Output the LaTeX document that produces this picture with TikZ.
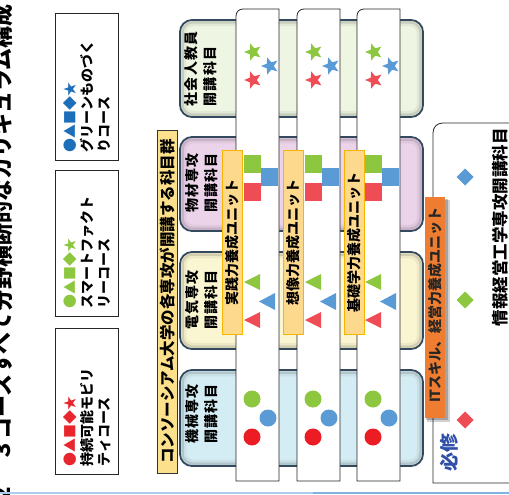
\documentclass[tikz,border=0pt]{standalone}
\usepackage{fontspec}
\setmainfont{Noto Sans CJK JP}
\usetikzlibrary{shapes.geometric}
\definecolor{cgreen}{HTML}{8DC63F}
\definecolor{cblue}{HTML}{5B9BD5}
\definecolor{cred}{HTML}{EF4D55}
\definecolor{ccirc}{HTML}{EC1C24}
\definecolor{lgblue}{HTML}{1E6FBA}
\definecolor{lggreen}{HTML}{8DC63F}
\definecolor{lgred}{HTML}{E8262E}
\definecolor{catgreen}{HTML}{EEF5E2}
\definecolor{catpink}{HTML}{EBD3EA}
\definecolor{catyellow}{HTML}{FAF6D2}
\definecolor{catblue}{HTML}{D4ECF3}
\definecolor{catborder}{HTML}{34495E}
\definecolor{unitfill}{HTML}{FDD98E}
\definecolor{unitborder}{HTML}{F7B500}
\definecolor{barfill}{HTML}{FDE08B}
\definecolor{itfill}{HTML}{EE7D31}
\definecolor{hissu}{HTML}{2F4FA8}
\definecolor{lineA}{HTML}{A9CDEA}
\definecolor{lineB}{HTML}{7FB2E0}
\begin{document}
\begin{tikzpicture}[x=1pt,y=-1pt,
  every node/.style={inner sep=0pt, outer sep=0pt},
  legendbox/.style={draw=black!85, line width=0.8pt, fill=white},
  legendtext/.style={rotate=90, anchor=north west, align=left, font=\fontsize{14}{17}\selectfont\bfseries},
  catlabel/.style={rotate=90, anchor=north, align=left, font=\fontsize{14}{19}\selectfont\bfseries\addfontfeature{LetterSpace=8}},
  colbox/.style={draw=black!85, line width=0.8pt, fill=white},
  unitbar/.style={draw=unitborder, line width=0.9pt, fill=unitfill},
  unitlabel/.style={rotate=90, font=\fontsize{14}{14}\selectfont\bfseries},
  starmark/.style={star, star points=5, star point ratio=2.3, minimum size=18pt, rotate=90},
  diam/.style={diamond, minimum size=17pt}
]
\useasboundingbox (0,0) rectangle (509,495);

% title (clipped at the left edge, as in the reference)
\node[rotate=90, anchor=south east, font=\fontsize{22}{22}\selectfont\bfseries] (title) at (13,4) {図２　３コースすべて分野横断的なカリキュラム構成};

% legend boxes
\draw[legendbox] (55,13) rectangle (118,160);
\node[legendtext] (lg1) at (63,152) {{\color{lgblue}●▲■◆★}\\グリーンものづく\\りコース};
\draw[legendbox] (55,170) rectangle (118,316);
\node[legendtext] (lg2) at (63,308) {{\color{lggreen}●▲■◆★}\\スマートファクト\\リーコース};
\draw[legendbox] (55,328) rectangle (118,474);
\node[legendtext] (lg3) at (63,466) {{\color{lgred}●▲■◆★}\\持続可能モビリ\\ティコース};

% consortium bar
\draw[fill=barfill, draw=black!80, line width=0.8pt] (157,130) rectangle (177,473);
\node[rotate=90, font=\fontsize{15.5}{15.5}\selectfont\bfseries] (cons) at (167,301.5) {コンソーシアム大学の各専攻が開講する科目群};

% category boxes
\foreach \ya/\yb/\c in {20/117/catgreen, 137/231/catpink, 252/349/catyellow, 370/466/catblue}{
  \draw[rounded corners=12pt, fill=\c, draw=catborder, line width=1.8pt] (180,\ya) rectangle (423,\yb);
  \draw[rounded corners=10pt, draw=\c!55!black, opacity=.35, line width=2.5pt] (182.5,\ya+2.5) rectangle (420.5,\yb-2.5);
  \draw[rounded corners=8pt, draw=\c!75!black, opacity=.2, line width=2.5pt] (185,\ya+5) rectangle (418,\yb-5);
}
\node[catlabel] (cat1) at (185,69) {社会人教員\\開講科目};
\node[catlabel] (cat2) at (185,183) {物材専攻\\開講科目};
\node[catlabel] (cat3) at (185,300) {電気専攻\\開講科目};
\node[catlabel] (cat4) at (185,414) {機械専攻\\開講科目};

% columns
\foreach \L in {236,297,357}{
  \draw[colbox] (\L,481) -- (\L,16) .. controls (\L,12) and (\L+3,9) .. (\L+7,9) -- (\L+43,9) -- (\L+43,481) -- cycle;
  % stars
  \node[starmark, fill=cgreen] at (\L+17,52) {};
  \node[starmark, fill=cblue] at (\L+34,66) {};
  \node[starmark, fill=cred] at (\L+17,80) {};
  % squares
  \fill[cgreen] (\L+8,155) rectangle (\L+25,173);
  \fill[cblue] (\L+25,168) rectangle (\L+42,186);
  \fill[cred] (\L+8,183) rectangle (\L+25,201);
  % triangles
  \fill[cgreen] (\L+8,282) -- (\L+24,274) -- (\L+24,290) -- cycle;
  \fill[cblue] (\L+23,301.5) -- (\L+39,293) -- (\L+39,310) -- cycle;
  \fill[cred] (\L+8,320) -- (\L+24,312) -- (\L+24,328) -- cycle;
  % circles
  \fill[cgreen] (\L+16,399) circle (8.5);
  \fill[cblue] (\L+32,418) circle (8.5);
  \fill[ccirc] (\L+16,437) circle (8.5);
}

% unit bars
\draw[unitbar] (222,150) rectangle (242,334);
\node[unitlabel] (u1) at (232,242) {実践力養成ユニット};
\draw[unitbar] (283,150) rectangle (303,334);
\node[unitlabel] (u2) at (293,242) {想像力養成ユニット};
\draw[unitbar] (344,150) rectangle (364,334);
\node[unitlabel] (u3) at (354,242) {基礎学力養成ユニット};

% right box
\draw[colbox] (433,483) -- (433,133) .. controls (433,127) and (437,123) .. (443,123) -- (515,123) -- (515,483) -- cycle;
\node[rotate=90, anchor=east, font=\fontsize{16.5}{16.5}\selectfont\bfseries] (info) at (500,128) {情報経営工学専攻開講科目};
\node[diam, fill=cblue] (d1) at (465,177) {};
\node[diam, fill=cgreen] (d2) at (465,300) {};
\node[diam, fill=cred] (d3) at (465,420) {};
\node[rotate=90, text=hissu, font=\fontsize{19}{19}\selectfont\bfseries] (hs) at (449,452) {必修};

% IT bar with shadow
\fill[black, opacity=.18] (427,200) rectangle (450,422);
\fill[black, opacity=.22] (426,199) rectangle (448,420);
\fill[itfill] (425,197) rectangle (445,418);
\node[rotate=90, font=\fontsize{14}{14}\selectfont\bfseries, text=black!85] (it) at (435,305) {ITスキル、経営力養成ユニット};

% bottom line
\draw[lineA, line width=1.5pt] (0,493) -- (313,493);
\draw[lineB, line width=1.5pt] (313,493) -- (509,493);
\end{tikzpicture}
\end{document}
